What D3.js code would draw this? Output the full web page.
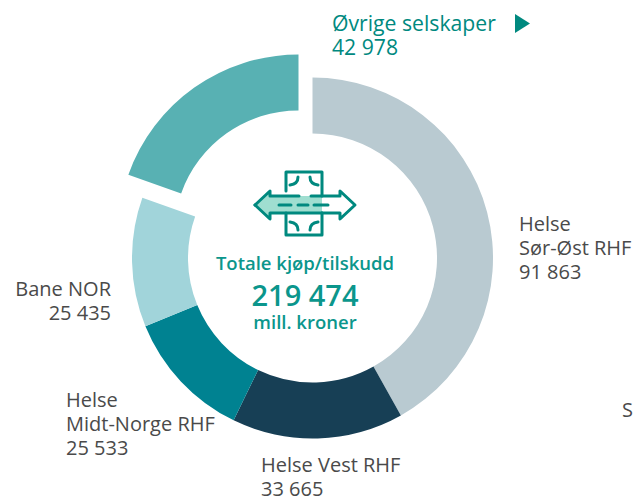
<!DOCTYPE html>
<html>
<head>
<meta charset="utf-8">
<script src="https://cdn.jsdelivr.net/npm/d3@7"></script>
<style>
  html, body { margin: 0; padding: 0; background: #fff; }
  svg { display: block; }
  text { font-family: "Open Sans", sans-serif; }
</style>
</head>
<body>
<svg id="chart" width="633" height="497"></svg>
<script>
const names = ['Helse Sør-Øst RHF', 'Helse Vest RHF', 'Helse Midt-Norge RHF', 'Bane NOR', 'Øvrige selskaper'];
const values = [91863, 33665, 25533, 25435, 42978];
const colors = ['#b9cad1', '#173f55', '#008291', '#a1d4da', '#58b1b3'];

const width = 633;
const height = 497;
const cx = 312.5;
const cy = 258;
const outer = 180.5;
const inner = 124.5;

const svg = d3.select('#chart');
const textColor = '#4a4a4a';
const teal = '#00897f';

const pie = d3.pie().sort(null).value((d) => d);
const arc = d3.arc().innerRadius(inner).outerRadius(outer);

svg.append('g')
  .attr('transform', `translate(${cx},${cy})`)
  .selectAll('path')
  .data(pie(values))
  .enter()
  .append('path')
  .attr('d', arc)
  .attr('fill', (d, i) => colors[i])
  // last slice is pulled out
  .attr('transform', (d, i) => (i === 4 ? 'translate(-14,-23)' : null));

// labels
const labels = [
  { lines: ['Helse', 'Sør-Øst RHF', '91 863'], x: 519, y: 230.7, anchor: 'start', fill: textColor, size: 20 },
  { lines: ['Helse Vest RHF', '33 665'], x: 261, y: 471.5, anchor: 'start', fill: textColor, size: 20 },
  { lines: ['Helse', 'Midt-Norge RHF', '25 533'], x: 66, y: 406.7, anchor: 'start', fill: textColor, size: 20 },
  { lines: ['Bane NOR', '25 435'], x: 111, y: 295.7, anchor: 'end', fill: textColor, size: 20 },
  { lines: ['Øvrige selskaper', '42 978'], x: 332, y: 31, anchor: 'start', fill: teal, size: 21.2 },
  { lines: ['S'], x: 622, y: 417, anchor: 'start', fill: textColor, size: 20 }
];

labels.forEach((l) => {
  const t = svg.append('text')
    .attr('text-anchor', l.anchor)
    .attr('fill', l.fill)
    .style('font-size', `${l.size}px`);
  l.lines.forEach((line, i) => {
    t.append('tspan').attr('x', l.x).attr('y', l.y + i * 24.3).text(line);
  });
});

svg.append('path')
  .attr('d', 'M515,14L530,23.5L515,33Z')
  .attr('fill', teal);

// centre text
const centre = svg.append('g').attr('text-anchor', 'middle').attr('fill', '#0b968c');
centre.append('text').attr('x', 305).attr('y', 270).style('font-size', '18.5px').style('font-weight', 600).text('Totale kjøp/tilskudd');
centre.append('text').attr('x', 305).attr('y', 306).style('font-size', '29px').style('font-weight', 600).text('219 474');
centre.append('text').attr('x', 305).attr('y', 329).style('font-size', '18.5px').style('font-weight', 600).text('mill. kroner');

// icon
const icon = svg.append('g')
  .attr('fill', 'none')
  .attr('stroke', '#00897f')
  .attr('stroke-width', 3)
  .attr('stroke-linecap', 'round')
  .attr('stroke-linejoin', 'round');

icon.append('path')
  .attr('d', 'M255,205L270,191V196H322V213H270V219Z')
  .attr('fill', '#9fded0')
  .attr('stroke', 'none');

[
  'M255,205L270,191V196H299', 'M255,205L270,219V213H322',
  'M311,196H340V191L355,205L340,219V213H322',
  'M286,191V172H322V196', 'M286,213V235H322V213',
  'M279,205H291', 'M298,205H308', 'M314,205H328',
  'M290,185Q298,184 298,177', 'M310,177Q310,184 318,185',
  'M290,222Q298,223 298,230', 'M310,230Q310,223 318,222'
].forEach((d) => icon.append('path').attr('d', d));
</script>
</body>
</html>
